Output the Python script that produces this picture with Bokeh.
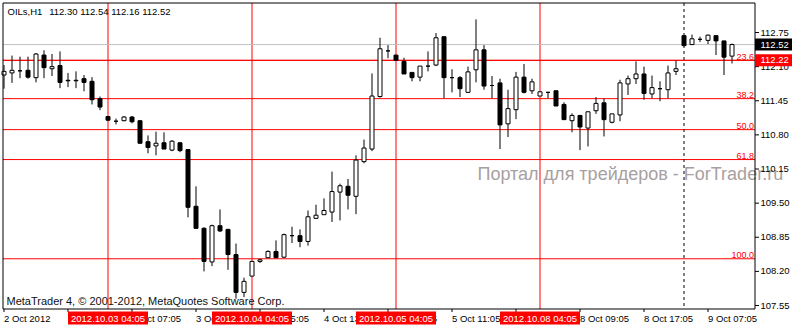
from bokeh.plotting import figure
from bokeh.models import Range1d, ColumnDataSource
from bokeh.core.properties import value
from bokeh.embed import file_html
from bokeh.resources import INLINE

# ---------------- data ----------------
SYMBOL = "OILs,H1"
OPEN = [111.94, 111.98, 112.02, 112.03, 111.89, 112.32, 112.06, 112.12, 111.84, 111.83,
        111.87, 111.82, 111.49, 111.15, 111.06, 111.07, 111.14, 111.07, 110.67, 110.59,
        110.65, 110.51, 110.65, 110.52, 109.44, 109.02, 108.38, 109.07, 109.00, 108.52,
        107.80, 108.11, 108.39, 108.46, 108.58, 108.47, 108.88, 108.88, 108.77, 109.21,
        109.28, 109.33, 109.71, 109.82, 109.63, 110.29, 110.53, 111.53, 112.40, 112.32,
        112.20, 111.99, 111.90, 112.11, 112.13, 112.67, 111.89, 111.89, 111.61, 112.04,
        112.42, 111.74, 111.79, 111.01, 111.28, 111.90, 111.64, 111.54, 111.61, 111.64,
        111.38, 111.07, 111.17, 110.93, 111.26, 111.41, 111.04, 111.18, 111.77, 111.87,
        111.96, 111.58, 111.68, 111.66, 112.01, 112.69, 112.52, 112.62, 112.60, 112.69,
        112.59, 112.30]
HIGH = [112.13, 112.31, 112.29, 112.29, 112.36, 112.41, 112.34, 112.39, 111.98, 112.01,
        111.94, 111.90, 111.53, 111.16, 111.11, 111.16, 111.16, 111.07, 110.79, 110.86,
        110.85, 110.70, 110.66, 110.52, 109.82, 109.04, 109.09, 109.38, 109.01, 108.73,
        108.08, 108.39, 108.44, 108.60, 108.79, 108.92, 109.05, 109.00, 109.36, 109.47,
        109.59, 110.10, 109.87, 109.96, 110.41, 110.71, 111.97, 112.65, 112.51, 112.32,
        112.27, 111.99, 112.11, 112.39, 112.74, 112.67, 112.05, 111.92, 112.10, 113.00,
        112.51, 111.92, 111.87, 111.66, 112.00, 112.15, 111.87, 111.62, 111.62, 111.64,
        111.42, 111.21, 111.18, 111.24, 111.52, 111.49, 111.20, 111.85, 111.93, 112.20,
        112.10, 111.93, 111.82, 112.12, 112.22, 112.69, 112.71, 112.67, 112.71, 112.70,
        112.59, 112.54]
LOW = [111.68, 111.79, 111.88, 111.87, 111.80, 111.88, 111.92, 111.69, 111.71, 111.69,
       111.63, 111.38, 111.27, 111.07, 111.00, 111.06, 111.02, 110.64, 110.45, 110.41,
       110.53, 110.49, 110.47, 109.23, 109.01, 108.20, 108.30, 108.95, 108.23, 107.68,
       107.71, 108.11, 108.36, 108.46, 108.46, 108.46, 108.74, 108.66, 108.69, 109.20,
       109.28, 109.14, 109.17, 109.38, 109.29, 110.26, 110.49, 111.51, 112.26, 112.22,
       111.96, 111.82, 111.82, 112.01, 112.11, 111.50, 111.61, 111.52, 111.60, 111.80,
       111.66, 111.50, 110.53, 110.76, 111.10, 111.59, 111.58, 111.54, 111.50, 111.35,
       111.09, 110.85, 110.51, 110.58, 111.20, 110.77, 111.02, 111.06, 111.56, 111.77,
       111.47, 111.50, 111.44, 111.50, 111.94, 112.49, 112.52, 112.57, 112.53, 112.32,
       111.94, 112.16]
CLOSE = [112.01, 112.03, 112.02, 111.90, 112.34, 112.08, 112.10, 111.80, 111.83, 111.84,
         111.80, 111.47, 111.33, 111.08, 111.06, 111.14, 111.05, 110.64, 110.56, 110.64,
         110.53, 110.68, 110.50, 109.42, 109.02, 108.39, 109.07, 108.97, 108.52, 107.80,
         108.01, 108.39, 108.42, 108.58, 108.46, 108.90, 108.88, 108.77, 109.24, 109.27,
         109.36, 109.72, 109.83, 109.65, 110.32, 110.55, 111.54, 112.44, 112.40, 112.22,
         111.96, 111.89, 112.11, 112.11, 112.65, 111.89, 111.89, 111.68, 112.00, 112.42,
         111.73, 111.74, 110.99, 111.30, 111.90, 111.61, 111.81, 111.62, 111.61, 111.35,
         111.09, 111.17, 110.95, 111.24, 111.40, 111.09, 111.20, 111.79, 111.87, 111.96,
         111.59, 111.70, 111.68, 111.98, 112.06, 112.50, 112.63, 112.62, 112.70, 112.59,
         112.28, 112.52]

PRICE_TICKS = [107.55, 108.20, 108.85, 109.50, 110.15, 110.80, 111.45, 112.10, 112.75]
TIME_TICKS = [0, 8, 16, 24, 32, 40, 48, 56, 64, 72, 80, 88]
TIME_LABELS = ["2 Oct 2012", "2 Oct 17:05", "3 Oct 07:05", "3 Oct 15:05", "4 Oct 05:05",
               "4 Oct 13:05", "4 Oct 21:05", "5 Oct 11:05", "5 Oct 19:05", "8 Oct 09:05",
               "8 Oct 17:05", "9 Oct 07:05"]
VLINE_BARS = [13, 31, 49, 67]
VLINE_LABELS = ["2012.10.03 04:05", "2012.10.04 04:05", "2012.10.05 04:05", "2012.10.08 04:05"]
SEPARATOR_BAR = 85
FIB_LEVELS = ["23.6", "38.2", "50.0", "61.8", "100.0"]
FIB_PRICES = [112.22, 111.49, 110.90, 110.33, 108.44]
HLINE_PRICE = 112.22
WATERMARK = "Портал для трейдеров - ForTrader.ru"
COPYRIGHT = "MetaTrader 4, © 2001-2012, MetaQuotes Software Corp."

# ---------------- layout (pixels -> data) ----------------
W, H = 792, 325
PX_PER_BAR = 8.0          # horizontal scale: one bar = 8 px
PX_PER_UNIT = 52.5        # vertical scale: one price unit = 52.5 px
BAR0_PX = 3.5             # pixel centre of bar 0
REF_PRICE, REF_PY = 112.75, 32.0
XA = -BAR0_PX / PX_PER_BAR
XB = XA + W / PX_PER_BAR
Y_TOP = REF_PRICE + REF_PY / PX_PER_UNIT
Y_BOT = Y_TOP - H / PX_PER_UNIT

# chart area borders (pixels)
L_PX, R_PX, T_PY, B_PY = 2.5, 754.5, 2.5, 308.5


def X(px):
    return XA + px / PX_PER_BAR


def Y(py):
    return Y_TOP - py / PX_PER_UNIT


def DY(dpx):
    return dpx / PX_PER_UNIT


FONT = value("Liberation Sans")

p = figure(width=W, height=H, output_backend="svg", toolbar_location=None, title=None,
           x_range=Range1d(XA, XB), y_range=Range1d(Y_BOT, Y_TOP),
           x_axis_type=None, y_axis_type=None,
           min_border=0, min_border_left=0, min_border_right=0,
           min_border_top=0, min_border_bottom=0)
p.background_fill_color = "white"
p.border_fill_color = "white"
p.outline_line_color = None
p.grid.visible = False

# ---- horizontal / vertical objects behind the candles ----
h_prices = FIB_PRICES + [HLINE_PRICE]
p.segment(x0=[X(L_PX)] * len(h_prices), x1=[X(R_PX)] * len(h_prices),
          y0=h_prices, y1=h_prices, line_color="#ff0000", line_width=1)
p.segment(x0=VLINE_BARS, x1=VLINE_BARS, y0=[Y(T_PY)] * len(VLINE_BARS),
          y1=[Y(B_PY)] * len(VLINE_BARS), line_color="#ff0000", line_width=1)
p.segment(x0=[SEPARATOR_BAR], x1=[SEPARATOR_BAR], y0=[Y(T_PY)], y1=[Y(B_PY)],
          line_color="black", line_width=1, line_dash="3 3")
p.segment(x0=[X(L_PX)], x1=[X(R_PX)], y0=[CLOSE[-1]], y1=[CLOSE[-1]],
          line_color="#c0c0c0", line_width=1)

# watermark
p.text(x=[X(477)], y=[Y(173)], text=[WATERMARK], text_align="left", text_baseline="middle",
       text_font=FONT, text_font_size=value("18px"), text_color="#a8a0a0")

# ---- candles ----
idx = list(range(len(OPEN)))
src = ColumnDataSource(dict(
    x=idx, low=LOW, high=HIGH,
    top=[max(o, c) for o, c in zip(OPEN, CLOSE)],
    bottom=[min(o, c) for o, c in zip(OPEN, CLOSE)],
    fill=["white" if c > o else "black" for o, c in zip(OPEN, CLOSE)],
))
p.segment(x0="x", y0="low", x1="x", y1="high", source=src, line_color="black", line_width=1)
p.vbar(x="x", width=0.5, top="top", bottom="bottom", source=src,
       fill_color="fill", line_color="black", line_width=1)

# ---- chart frame ----
p.segment(x0=[X(L_PX), X(L_PX), X(R_PX), X(L_PX)],
          x1=[X(R_PX), X(L_PX), X(R_PX), X(R_PX)],
          y0=[Y(T_PY), Y(T_PY), Y(T_PY), Y(B_PY)],
          y1=[Y(T_PY), Y(B_PY), Y(B_PY), Y(B_PY)],
          line_color="black", line_width=1)

# ---- right price scale ----
p.segment(x0=[X(R_PX)] * len(PRICE_TICKS), x1=[X(R_PX + 4)] * len(PRICE_TICKS),
          y0=PRICE_TICKS, y1=PRICE_TICKS, line_color="black", line_width=1)
p.text(x=[X(760)] * len(PRICE_TICKS), y=PRICE_TICKS, text=[f"{t:.2f}" for t in PRICE_TICKS],
       text_align="left", text_baseline="middle", text_font=FONT,
       text_font_size=value("9.5px"), text_color="black")

# ---- bottom time scale ----
p.segment(x0=TIME_TICKS, x1=TIME_TICKS, y0=[Y(B_PY)] * len(TIME_TICKS),
          y1=[Y(B_PY + 3)] * len(TIME_TICKS), line_color="black", line_width=1)
p.text(x=TIME_TICKS, y=[Y(317.5)] * len(TIME_TICKS), text=TIME_LABELS,
       text_align="left", text_baseline="middle", text_font=FONT,
       text_font_size=value("9.5px"), text_color="black")
half_w = 40 / PX_PER_BAR
p.quad(left=[b - half_w for b in VLINE_BARS], right=[b + half_w for b in VLINE_BARS],
       top=[Y(311)] * len(VLINE_BARS), bottom=[Y(324)] * len(VLINE_BARS),
       fill_color="#ff0000", line_color=None)
p.text(x=VLINE_BARS, y=[Y(317.5)] * len(VLINE_BARS), text=VLINE_LABELS,
       text_align="center", text_baseline="middle", text_font=FONT,
       text_font_size=value("9.5px"), text_color="white")

# ---- price boxes on the scale ----
box_prices = [CLOSE[-1], HLINE_PRICE]
p.quad(left=[X(R_PX)] * 2, right=[X(W)] * 2,
       top=[pr + DY(6) for pr in box_prices], bottom=[pr - DY(6) for pr in box_prices],
       fill_color=["black", "#ff0000"], line_color=None)
p.text(x=[X(760)] * 2, y=box_prices, text=[f"{pr:.2f}" for pr in box_prices],
       text_align="left", text_baseline="middle", text_font=FONT,
       text_font_size=value("9.5px"), text_color="white")

# ---- header ----
p.text(x=[X(7)], y=[Y(10.5)], text=[SYMBOL], text_align="left", text_baseline="middle",
       text_font=FONT, text_font_size=value("9.5px"), text_color="black")
p.text(x=[X(48.7)], y=[Y(10.5)],
       text=[f"{OPEN[-1]:.2f} {HIGH[-1]:.2f} {LOW[-1]:.2f} {CLOSE[-1]:.2f}"],
       text_align="left", text_baseline="middle", text_font=FONT,
       text_font_size=value("9.5px"), text_color="black")

# ---- copyright ----
p.text(x=[X(6)], y=[Y(300)], text=[COPYRIGHT], text_align="left", text_baseline="middle",
       text_font=FONT, text_font_size=value("11px"), text_color="#101010")

# ---- fibo level labels ----
p.text(x=[X(753.5)] * len(FIB_LEVELS), y=[pr + DY(0.5) for pr in FIB_PRICES],
       text=FIB_LEVELS, text_align="right", text_baseline="bottom", text_font=FONT,
       text_font_size=value("9px"), text_color="#ff0000")

open("out.html", "w").write(file_html(p, INLINE))
